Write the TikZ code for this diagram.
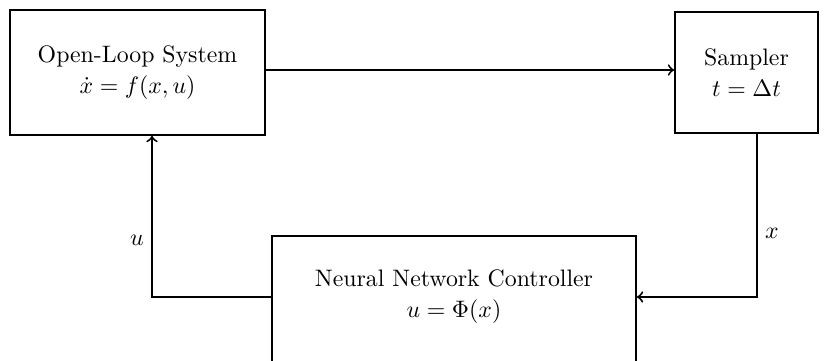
\documentclass[tikz,border=0pt]{standalone}
\begin{document}
\begin{tikzpicture}[x=0.42pt,y=-0.42pt,
  blk/.style={draw,thick,align=center,inner sep=0pt},
  txt/.style={align=center,inner sep=0pt},
  conn/.style={thick,->}]
\useasboundingbox (0,0) rectangle (827,361);
\node[blk,minimum width=255*0.42pt,minimum height=125*0.42pt] (ol) at (137.5,72.5) {Open-Loop System\\[1pt]$\dot{x}=f(x,u)$};
\node[blk,minimum width=143*0.42pt,minimum height=121*0.42pt] (sa) at (746.5,72.5) {Sampler\\[1pt]$t=\Delta t$};
\node[blk,minimum width=364*0.42pt,minimum height=130*0.42pt] (nn) at (454,301) {};
\node[txt] (nnt) at (454,297) {Neural Network Controller\\[1pt]$u=\Phi(x)$};
\draw[conn] (ol.east |- 0,70) -- (sa.west |- 0,70);
\coordinate (c1) at (757,297);
\coordinate (c2) at (152,297);
\draw[conn] (sa.south -| c1) -- (c1) -- (nn.east |- c1);
\draw[conn] (nn.west |- c2) -- (c2) -- (ol.south -| c2);
\node (lu) at (137,240) {$u$};
\node (lx) at (772,233) {$x$};
\end{tikzpicture}
\end{document}
